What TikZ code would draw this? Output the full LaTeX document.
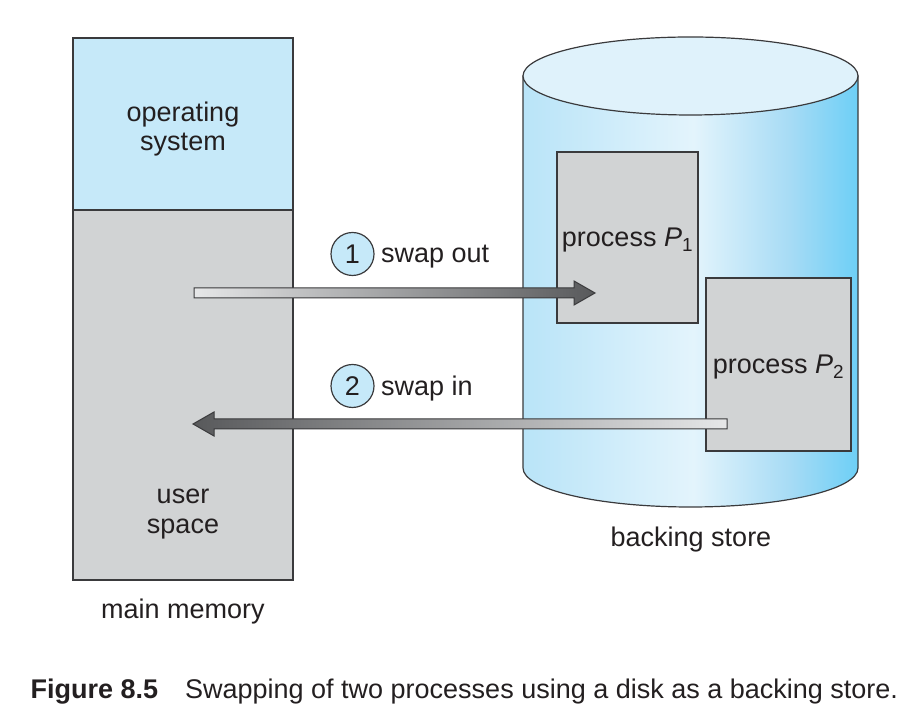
\documentclass[tikz,border=0pt]{standalone}
\usepackage{fontspec}
\setmainfont{Liberation Sans}
\usetikzlibrary{calc, positioning}

\definecolor{ink}{HTML}{231F20}
\definecolor{edge}{HTML}{3A3A3C}
\definecolor{osblue}{HTML}{C6E9F9}
\definecolor{memgray}{HTML}{D1D3D4}
\definecolor{cylleft}{HTML}{B9E4F8}
\definecolor{cylmid}{HTML}{E3F4FC}
\definecolor{cylside}{HTML}{A6DBF5}
\definecolor{cylright}{HTML}{6DCFF6}
\definecolor{cyltop}{HTML}{DFF2FB}
\definecolor{arrlight}{HTML}{E6E7E8}
\definecolor{arrdark}{HTML}{58595B}

\pgfdeclarehorizontalshading{cylbody}{100bp}{color(0bp)=(cylleft); color(25bp)=(cylleft);
    color(50.5bp)=(cylmid); color(65bp)=(cylside); color(75bp)=(cylright); color(100bp)=(cylright)}

\begin{document}
\begin{tikzpicture}[x=1pt, y=1pt, line width=1.2pt, node distance=5pt,
    every node/.style={font=\fontsize{27}{30}\selectfont, text=ink, text depth=0pt},
    membox/.style={draw=edge, rectangle, minimum width=220pt, inner sep=0pt, outer sep=0pt},
    procbox/.style={draw=edge, fill=memgray, rectangle, inner sep=0pt, outer sep=0pt},
    stepnum/.style={draw=edge, fill=osblue, circle, minimum size=43pt, inner sep=0pt},
    swaparrow/.style={draw=edge, line width=1pt}]

    \useasboundingbox (0,0) rectangle (920,722);

    % main memory
    \node[membox, fill=osblue, minimum height=172pt] (os) at (183,598) {};
    \node[membox, fill=memgray, minimum height=370pt, below=0pt of os] (user) {};
    \node[align=center, inner sep=0pt, font=\fontsize{27}{29}\selectfont] (ostxt) at (183,596) {operating\\system};
    \node[align=center, inner sep=0pt] (usertxt) at (183,211) {user\\space};
    \node[inner sep=0pt, below=18pt of user] (mainmem) {main memory};

    % backing store
    \shadedraw[shading=cylbody, draw=edge]
        (523,646) -- (523,254) arc[start angle=180, end angle=360, x radius=167.5, y radius=39]
        -- (858,646) -- cycle;
    \filldraw[fill=cyltop, draw=edge] (690.5,646) ellipse [x radius=167.5, y radius=39];
    \node[inner sep=0pt] (store) at (691,185) {backing store};

    \node[procbox, minimum width=141pt, minimum height=171pt] (P1) at (627.5,484.5) {process \textit{P}\textsubscript{1}};
    \node[procbox, minimum width=145pt, minimum height=173pt] (P2) at (778.5,357.5) {process \textit{P}\textsubscript{2}};

    % swap out
    \coordinate (outtail) at (194,429);
    \coordinate (outtip)  at (595,429);
    \shadedraw[swaparrow, left color=arrlight, right color=arrdark]
        ($(outtail)+(0,5)$) -- ($(outtip)+(-21,5)$) -- ($(outtip)+(-21,12)$) -- (outtip)
        -- ($(outtip)+(-21,-12)$) -- ($(outtip)+(-21,-5)$) -- ($(outtail)+(0,-5)$) -- cycle;
    \node[stepnum] (one) at (352.5,468) {1};
    \node[inner sep=0pt, right=6pt of one] (outtxt) {swap out};

    % swap in
    \coordinate (intail) at (727,298);
    \coordinate (intip)  at (193,298);
    \shadedraw[swaparrow, left color=arrdark, right color=arrlight]
        ($(intail)+(0,5)$) -- ($(intip)+(21,5)$) -- ($(intip)+(21,12)$) -- (intip)
        -- ($(intip)+(21,-12)$) -- ($(intip)+(21,-5)$) -- ($(intail)+(0,-5)$) -- cycle;
    \node[stepnum] (two) at (352.5,336) {2};
    \node[inner sep=0pt, right=6pt of two] (intxt) {swap in};

    \node[anchor=base west, inner sep=0pt] (caption) at (30,23)
        {\textbf{Figure 8.5}\quad Swapping of two processes using a disk as a backing store.};
\end{tikzpicture}
\end{document}
